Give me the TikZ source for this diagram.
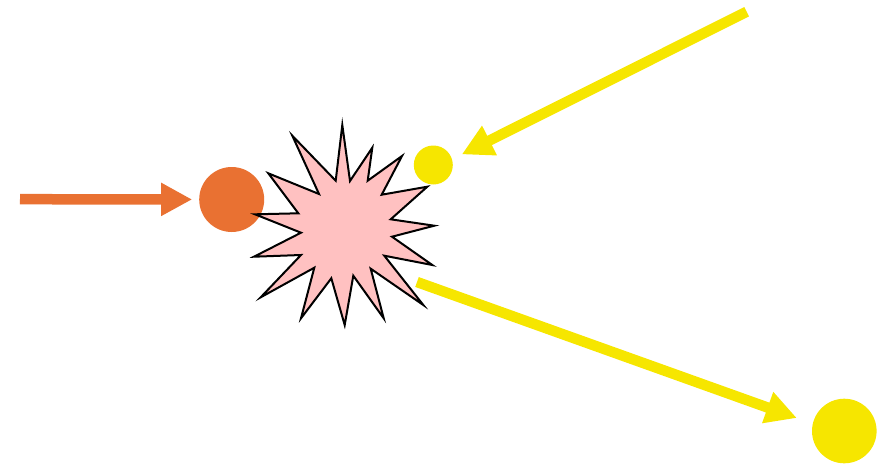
\documentclass[tikz,border=0pt]{standalone}
\usetikzlibrary{arrows.meta}
\definecolor{orangeC}{RGB}{233,113,50}
\definecolor{yellowC}{RGB}{246,230,0}
\definecolor{pinkC}{RGB}{255,193,193}
\begin{document}
\begin{tikzpicture}[x=1pt,y=-1pt,
  ball/.style={circle,inner sep=0pt,outer sep=0pt,draw=none},
  fatarrow/.style={line width=10.5pt,line cap=butt,-{Triangle[length=31pt,width=31pt]}}]
\useasboundingbox (0,0) rectangle (885,466);
% particles
\node[ball,fill=orangeC,minimum size=65pt] (orange) at (231.7,199.5) {};
\node[ball,fill=yellowC,minimum size=39pt] (small) at (433.3,165) {};
\node[ball,fill=yellowC,minimum size=64.6pt] (big) at (844.3,431) {};
% free ends
\coordinate (oin) at (20,199.2);
\coordinate (yin) at (746.7,11.7);
\coordinate (yout) at (417,282);
% starburst
\draw[line width=2pt,fill=pinkC,line join=miter]
 (342.3,125) -- (350,181) -- (372.3,147.7) -- (367.7,180.7) -- (402,156) -- (381.7,194.7)
 -- (427.3,186.7) -- (390.7,219.3) -- (434.3,225.7) -- (392,236.7) -- (432.3,265)
 -- (384.3,255.7) -- (423.3,305) -- (370.7,268.7) -- (383.7,318.3) -- (353.3,275.7)
 -- (344.7,325) -- (331.3,278.3) -- (301,318.3) -- (314.3,267.7) -- (260.7,297.3)
 -- (301,255) -- (254,256.7) -- (301,232.7) -- (255,214.3) -- (298.3,213.3)
 -- (268.3,173.3) -- (319,194) -- (292.3,135.7) -- (335.7,180.7) -- cycle;
% arrows
\draw[fatarrow,draw=orangeC,fill=orangeC,shorten >=7pt] (oin) -- (orange);
\draw[fatarrow,draw=yellowC,fill=yellowC,shorten >=11pt] (yin) -- (small.17);
\draw[fatarrow,draw=yellowC,fill=yellowC,shorten >=17pt] (yout) -- (big.167);
\end{tikzpicture}
\end{document}
